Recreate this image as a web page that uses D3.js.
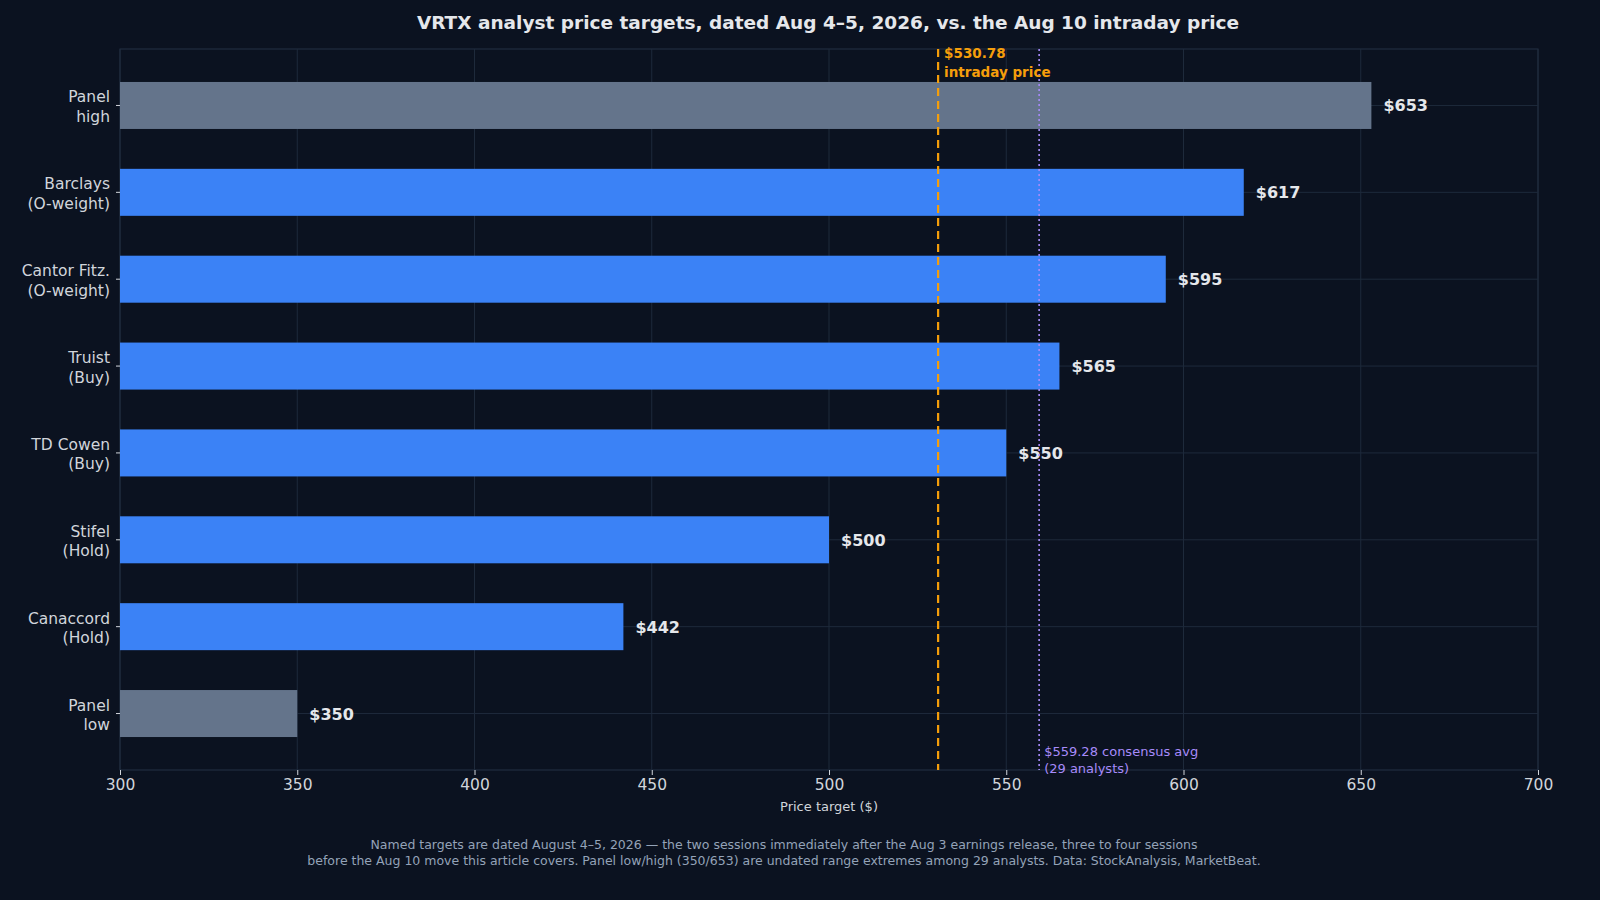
<!DOCTYPE html><html><head><meta charset="utf-8"><script src="https://cdn.jsdelivr.net/npm/d3@7"></script>
<style>body{margin:0;background:#0b1220;font-family:"DejaVu Sans",sans-serif}</style></head><body><svg id="c" width="1600" height="900"></svg><script>
const labels=[["Panel","high"],["Barclays","(O-weight)"],["Cantor Fitz.","(O-weight)"],["Truist","(Buy)"],["TD Cowen","(Buy)"],["Stifel","(Hold)"],["Canaccord","(Hold)"],["Panel","low"]];
const values=[653,617,595,565,550,500,442,350];
const isPanel=[true,false,false,false,false,false,false,true];
const xTicks=[300,350,400,450,500,550,600,650,700];
const intraday=530.78, consensus=559.28;
const svg=d3.select("#c");
svg.append("rect").attr("width",1600).attr("height",900).attr("fill","#0b1220");
const L=120,R=1538,T=49,B=770;
const x=d3.scaleLinear().domain([300,700]).range([L,R]);
const y=d3.scaleLinear().domain([-0.65,7.65]).range([T,B]);
const g=svg.append("g");
g.append("rect").attr("x",L).attr("y",T).attr("width",R-L).attr("height",B-T).attr("fill","#0b1220").attr("stroke","#253044");
xTicks.forEach(t=>g.append("line").attr("x1",x(t)).attr("x2",x(t)).attr("y1",T).attr("y2",B).attr("stroke","#1e2a3b"));
values.forEach((v,i)=>g.append("line").attr("x1",L).attr("x2",R).attr("y1",y(i)).attr("y2",y(i)).attr("stroke","#1e2a3b"));
const bh=47;
values.forEach((v,i)=>{
 g.append("rect").attr("x",x(300)).attr("y",y(i)-bh/2).attr("width",x(v)-x(300)).attr("height",bh).attr("fill",isPanel[i]?"#64748b":"#3b82f6");
 g.append("text").attr("x",x(v)+12).attr("y",y(i)+6).attr("fill","#e5e7eb").attr("font-size",16).attr("font-weight","bold").text("$"+v);
 const t=g.append("text").attr("x",L-10).attr("y",y(i)-3).attr("text-anchor","end").attr("fill","#d1d5db").attr("font-size",15.5);
 t.append("tspan").attr("x",L-10).text(labels[i][0]);
 t.append("tspan").attr("x",L-10).attr("dy",19.5).text(labels[i][1]);
 g.append("line").attr("x1",L-4).attr("x2",L).attr("y1",y(i)).attr("y2",y(i)).attr("stroke","#d1d5db");
});
g.append("line").attr("x1",x(intraday)).attr("x2",x(intraday)).attr("y1",T).attr("y2",B).attr("stroke","#f59e0b").attr("stroke-width",2.2).attr("stroke-dasharray","8,5");
g.append("line").attr("x1",x(consensus)).attr("x2",x(consensus)).attr("y1",T).attr("y2",B).attr("stroke","#a78bfa").attr("stroke-width",1.6).attr("stroke-dasharray","2,3");
const it=g.append("text").attr("fill","#f59e0b").attr("font-size",13.5).attr("font-weight","bold");
it.append("tspan").attr("x",x(intraday)+6).attr("y",58).text("$"+intraday);
it.append("tspan").attr("x",x(intraday)+6).attr("y",77).text("intraday price");
const ct=g.append("text").attr("fill","#a78bfa").attr("font-size",13);
ct.append("tspan").attr("x",x(consensus)+5).attr("y",756).text("$"+consensus+" consensus avg");
ct.append("tspan").attr("x",x(consensus)+5).attr("y",773).text("(29 analysts)");
const ax=svg.append("g").attr("transform",`translate(0,${B})`).call(d3.axisBottom(x).tickValues(xTicks).tickSize(5).tickPadding(4));
ax.select(".domain").remove();
ax.selectAll("line").attr("stroke","#d1d5db");
ax.selectAll("text").attr("fill","#d1d5db").attr("font-size",15.5).attr("font-family","DejaVu Sans");
svg.append("text").attr("x",(L+R)/2).attr("y",811).attr("text-anchor","middle").attr("fill","#d1d5db").attr("font-size",13).text("Price target ($)");
svg.append("text").attr("x",828).attr("y",29).attr("text-anchor","middle").attr("fill","#e5e7eb").attr("font-size",18.5).attr("font-weight","bold").text("VRTX analyst price targets, dated Aug 4–5, 2026, vs. the Aug 10 intraday price");
const f=svg.append("text").attr("text-anchor","middle").attr("fill","#94a3b8").attr("font-size",12.5);
f.append("tspan").attr("x",784).attr("y",849).text("Named targets are dated August 4–5, 2026 — the two sessions immediately after the Aug 3 earnings release, three to four sessions");
f.append("tspan").attr("x",784).attr("y",865).text("before the Aug 10 move this article covers. Panel low/high (350/653) are undated range extremes among 29 analysts. Data: StockAnalysis, MarketBeat.");
</script></body></html>
